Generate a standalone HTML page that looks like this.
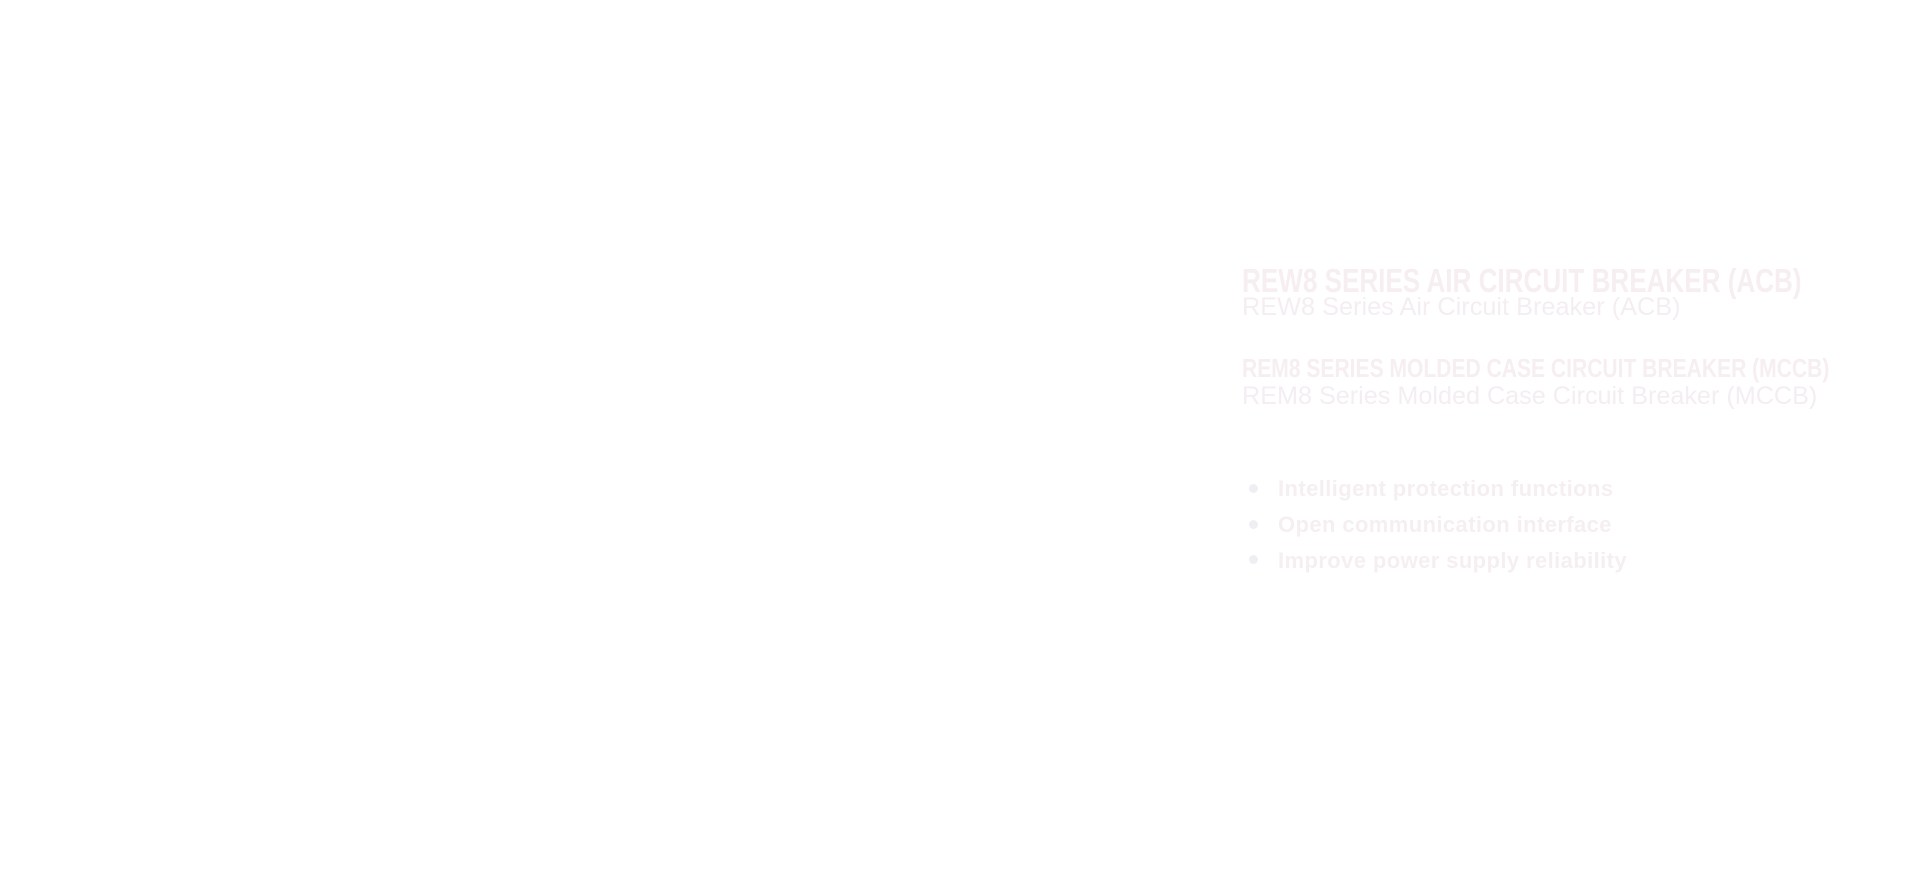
<!DOCTYPE html>
<html><head><meta charset="utf-8"><style>
html,body{margin:0;padding:0;width:1920px;height:870px;background:#fff;overflow:hidden}
.t{position:absolute;left:1242px;white-space:nowrap;transform-origin:0 0}
.h{font-family:"Liberation Sans",sans-serif;font-weight:bold;color:#f6eef0}
.s{font-family:"Liberation Sans",sans-serif;color:#f4eef2}
.b{font-family:"Liberation Sans",sans-serif;font-weight:bold;color:#f6eff2;font-size:22px;left:1278px;letter-spacing:0.4px}
.d{position:absolute;left:1249px;width:9px;height:9px;border-radius:50%;background:#f1eef3}
</style></head><body>
<div class="t h" style="top:262px;font-size:33px;transform:scaleX(0.79)">REW8 SERIES AIR CIRCUIT BREAKER (ACB)</div>
<div class="t s" style="top:293px;font-size:25.3px;">REW8 Series Air Circuit Breaker (ACB)</div>
<div class="t h" style="top:353px;font-size:26px;transform:scaleX(0.81)">REM8 SERIES MOLDED CASE CIRCUIT BREAKER (MCCB)</div>
<div class="t s" style="top:382px;font-size:25.2px;">REM8 Series Molded Case Circuit Breaker (MCCB)</div>
<div class="d" style="top:484px"></div>
<div class="d" style="top:520px"></div>
<div class="d" style="top:555px"></div>
<div class="t b" style="top:476px;">Intelligent protection functions</div>
<div class="t b" style="top:512px;">Open communication interface</div>
<div class="t b" style="top:548px;">Improve power supply reliability</div>
</body></html>
